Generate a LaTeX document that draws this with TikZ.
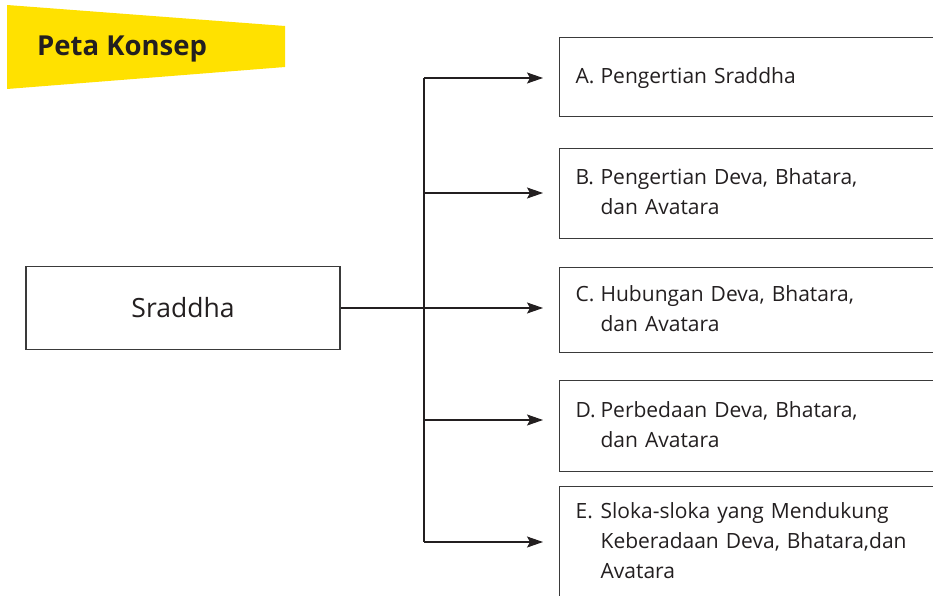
\documentclass[tikz,border=0pt]{standalone}
\usepackage{fontspec}
\setmainfont{Open Sans}
\usepackage{tikz}
\usetikzlibrary{arrows.meta}
\definecolor{ink}{HTML}{231F20}
\definecolor{frame}{HTML}{3A3A3A}
\definecolor{banner}{HTML}{FFE100}
\newcommand{\rows}[1]{\begin{tabular}{@{}l@{}l@{}}#1\end{tabular}}
\newcommand{\tag}[1]{\makebox[25pt][l]{#1}}
\tikzset{
  box/.style={draw=frame, line width=1.2pt, rectangle, inner sep=0pt, text=ink},
  itembox/.style={box, minimum width=420pt, anchor=north west, align=left,
    text width=390pt, inner xsep=16pt, font=\fontsize{21}{30}\selectfont},
  conn/.style={draw=ink, line width=1.1pt},
  arr/.style={conn, -{Stealth[length=16pt, width=11pt, inset=3pt]}, shorten >=16pt},
  ttl/.style={text=ink, font=\fontsize{27.5}{30}\selectfont\bfseries, inner sep=0pt},
}

\begin{document}
\begin{tikzpicture}[x=1pt, y=-1pt]
  \useasboundingbox (0,0) rectangle (933,596);
  \clip (0,0) rectangle (933,596);

  \fill[banner] (7,5) -- (285,26) -- (285,67) -- (7,89) -- cycle;
  \node[ttl, anchor=base west] (title) at (37,56) {Peta Konsep};

  \node[box, minimum width=314pt, minimum height=83pt,
    font=\fontsize{26.5}{30}\selectfont] (src) at (183,308) {Sraddha};

  \node[itembox, minimum height=79pt] (A) at (559,37)
    {\rows{\tag{A.}&Pengertian Sraddha}};
  \node[itembox, minimum height=90pt] (B) at (559,148)
    {\rows{\tag{B.}&Pengertian Deva, Bhatara,\\&dan Avatara}};
  \node[itembox, minimum height=85pt] (C) at (559,267)
    {\rows{\tag{C.}&Hubungan Deva, Bhatara,\\&dan Avatara}};
  \node[itembox, minimum height=91pt] (D) at (559,380)
    {\rows{\tag{D.}&Perbedaan Deva, Bhatara,\\&dan Avatara}};
  \node[itembox, minimum height=112pt] (E) at (559,486)
    {\rows{\tag{E.}&Sloka-sloka yang Mendukung\\&Keberadaan Deva, Bhatara,dan\\&Avatara}};

  \coordinate (jA) at (424,78);
  \coordinate (jB) at (424,193);
  \coordinate (jC) at (424,308);
  \coordinate (jD) at (424,420);
  \coordinate (jE) at (424,542);

  \draw[conn] (src.east) -- (jC);
  \draw[conn] (jA) -- (jE);
  \draw[arr] (jA) -- (jA -| A.west);
  \draw[arr] (jB) -- (jB -| B.west);
  \draw[arr] (jC) -- (jC -| C.west);
  \draw[arr] (jD) -- (jD -| D.west);
  \draw[arr] (jE) -- (jE -| E.west);
\end{tikzpicture}
\end{document}
